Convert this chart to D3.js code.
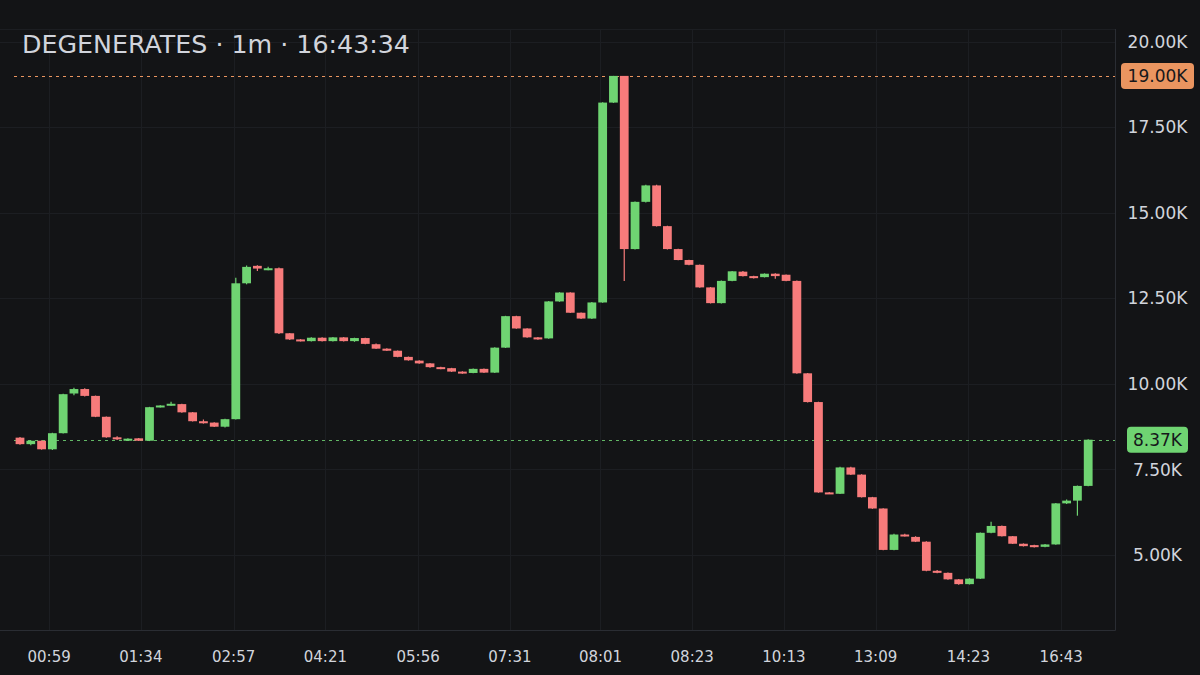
<!doctype html>
<html lang="en">
  <head>
    <meta charset="utf-8" />
    <title>DEGENERATES 1m</title>
    <style>
     html, body {
       margin: 0;
       padding: 0;
       background: #131416;
     }
     svg {
       display: block;
       font-family: "DejaVu Sans", Verdana, sans-serif;
     }
    </style>
  </head>
  <body>
    <div id="chart"></div>

    <script src="https://cdn.jsdelivr.net/npm/d3@7"></script>
    <script>
    // candles, values in K
    var opens  = [8.43, 8.24, 8.34, 8.09, 8.56, 9.72, 9.85, 9.65, 9.04, 8.44,
                  8.34, 8.41, 8.34, 9.32, 9.37, 9.41, 9.17, 8.91, 8.87, 8.75,
                  8.97, 12.94, 13.45, 13.33, 13.38, 11.48, 11.30, 11.25, 11.35, 11.25,
                  11.36, 11.25, 11.34, 11.16, 11.03, 10.97, 10.79, 10.68, 10.60, 10.49,
                  10.46, 10.36, 10.32, 10.44, 10.33, 11.06, 11.98, 11.62, 11.36, 11.33,
                  12.41, 12.67, 12.08, 11.91, 12.38, 18.22, 19.00, 13.94, 15.32, 15.80,
                  14.61, 13.94, 13.62, 13.48, 12.82, 12.36, 13.01, 13.28, 13.15, 13.12,
                  13.22, 13.19, 13.01, 10.31, 9.47, 6.83, 6.79, 7.56, 7.35, 6.69,
                  6.36, 5.15, 5.60, 5.53, 5.39, 4.54, 4.48, 4.29, 4.15, 4.31,
                  5.65, 5.85, 5.55, 5.33, 5.29, 5.24, 5.31, 6.51, 6.59, 7.02];
    var highs  = [8.45, 8.35, 8.35, 8.57, 9.71, 9.89, 9.87, 9.66, 9.05, 8.47,
                  8.41, 8.42, 9.33, 9.38, 9.48, 9.42, 9.18, 8.96, 8.88, 8.98,
                  13.10, 13.46, 13.47, 13.42, 13.40, 11.49, 11.31, 11.36, 11.36, 11.37,
                  11.37, 11.35, 11.35, 11.18, 11.04, 10.98, 10.80, 10.69, 10.61, 10.50,
                  10.47, 10.37, 10.45, 10.45, 11.07, 11.99, 11.99, 11.63, 11.37, 12.42,
                  12.68, 12.68, 12.09, 12.39, 18.23, 19.00, 19.00, 15.33, 15.82, 15.82,
                  14.62, 13.95, 13.63, 13.49, 12.83, 13.02, 13.30, 13.30, 13.16, 13.23,
                  13.23, 13.20, 13.02, 10.32, 9.48, 6.84, 7.58, 7.58, 7.36, 6.70,
                  6.37, 5.62, 5.62, 5.55, 5.40, 4.56, 4.49, 4.30, 4.32, 5.66,
                  5.97, 5.86, 5.56, 5.34, 5.30, 5.32, 6.52, 6.62, 7.03, 8.38];
    var lows   = [8.22, 8.21, 8.08, 8.07, 8.55, 9.67, 9.63, 9.03, 8.43, 8.36,
                  8.33, 8.33, 8.33, 9.31, 9.36, 9.16, 8.90, 8.84, 8.74, 8.73,
                  8.96, 12.91, 13.30, 13.32, 11.46, 11.28, 11.24, 11.24, 11.24, 11.24,
                  11.24, 11.23, 11.16, 11.02, 10.96, 10.78, 10.68, 10.59, 10.47, 10.43,
                  10.35, 10.30, 10.31, 10.32, 10.32, 11.05, 11.61, 11.35, 11.29, 11.32,
                  12.40, 12.07, 11.90, 11.90, 12.37, 18.21, 13.01, 13.93, 15.30, 14.60,
                  13.93, 13.61, 13.47, 12.81, 12.35, 12.35, 13.00, 13.14, 13.08, 13.11,
                  13.07, 13.00, 10.30, 9.46, 6.82, 6.78, 6.78, 7.34, 6.68, 6.35,
                  5.14, 5.14, 5.54, 5.38, 4.53, 4.47, 4.28, 4.13, 4.14, 4.30,
                  5.64, 5.54, 5.32, 5.25, 5.22, 5.23, 5.30, 6.49, 6.15, 7.01];
    var closes = [8.24, 8.34, 8.09, 8.56, 9.70, 9.85, 9.65, 9.04, 8.44, 8.38,
                  8.40, 8.34, 9.32, 9.37, 9.42, 9.17, 8.91, 8.85, 8.75, 8.97,
                  12.94, 13.42, 13.37, 13.38, 11.48, 11.30, 11.25, 11.35, 11.25, 11.36,
                  11.25, 11.34, 11.17, 11.03, 10.97, 10.79, 10.69, 10.60, 10.49, 10.44,
                  10.36, 10.31, 10.44, 10.33, 11.06, 11.98, 11.62, 11.36, 11.30, 12.41,
                  12.67, 12.08, 11.91, 12.38, 18.22, 19.00, 13.94, 15.32, 15.80, 14.61,
                  13.94, 13.62, 13.48, 12.82, 12.36, 13.01, 13.29, 13.15, 13.09, 13.22,
                  13.15, 13.01, 10.31, 9.47, 6.83, 6.79, 7.56, 7.35, 6.69, 6.36,
                  5.15, 5.60, 5.55, 5.39, 4.54, 4.48, 4.29, 4.15, 4.31, 5.65,
                  5.85, 5.55, 5.33, 5.26, 5.23, 5.31, 6.51, 6.59, 7.02, 8.37];

    // time axis labels, placed at candle positions
    var timeTickIdx = [2.7, 11.2, 19.8, 28.3, 36.9, 45.4, 53.8, 62.3, 70.8, 79.3, 87.9, 96.5];
    var timeTickLabels = ["00:59", "01:34", "02:57", "04:21", "05:56", "07:31",
                          "08:01", "08:23", "10:13", "13:09", "14:23", "16:43"];
    var priceTicks = [5, 7.5, 10, 12.5, 15, 17.5, 20];
    var priceDomain = [2.81, 20.37];

    var title = "DEGENERATES · 1m · 16:43:34";
    var highMark = 19.00;
    var lastPrice = 8.37;

    var W = 1200, H = 675;
    var plot = {left: 0, right: 1115, top: 29, bottom: 630};

    var up = "#6fd472", down = "#f77b7b";
    var orange = "#ea9560";
    var textCol = "#d1d4dc";
    var gridCol = "#1c1e22";

    var candles = d3.range(opens.length).map(function(i) {
      return {i: i, o: opens[i], h: highs[i], l: lows[i], c: closes[i]};
    });

    var x = d3.scaleLinear().domain([0, 99]).range([20, 1088.2]);
    var y = d3.scaleLinear().domain(priceDomain).range([plot.bottom, plot.top]);
    var bodyW = 8.8;

    var svg = d3.select("#chart").append("svg")
      .attr("width", W)
      .attr("height", H);

    svg.append("rect")
      .attr("width", W).attr("height", H)
      .attr("fill", "#131416");

    // grid
    svg.append("g").selectAll("line")
      .data(priceTicks)
      .enter().append("line")
      .attr("x1", plot.left).attr("x2", plot.right)
      .attr("y1", function(d) { return Math.round(y(d)) + 0.5; })
      .attr("y2", function(d) { return Math.round(y(d)) + 0.5; })
      .attr("stroke", gridCol);

    svg.append("g").selectAll("line")
      .data(timeTickIdx)
      .enter().append("line")
      .attr("x1", function(d) { return Math.round(x(d)) + 0.5; })
      .attr("x2", function(d) { return Math.round(x(d)) + 0.5; })
      .attr("y1", plot.top).attr("y2", plot.bottom)
      .attr("stroke", gridCol);

    svg.append("line")
      .attr("x1", plot.left).attr("x2", plot.right)
      .attr("y1", plot.top + 0.5).attr("y2", plot.top + 0.5)
      .attr("stroke", gridCol);

    // frame right + bottom
    svg.append("path")
      .attr("d", "M" + (plot.right + 0.5) + "," + plot.top + "V" + (plot.bottom + 0.5) + "H" + plot.left)
      .attr("fill", "none")
      .attr("stroke", "#2a2d33");

    // price lines
    function priceLine(v, col) {
      var py = Math.round(y(v)) + 0.5;
      svg.append("line")
        .attr("x1", 14).attr("x2", plot.right)
        .attr("y1", py).attr("y2", py)
        .attr("stroke", col)
        .attr("stroke-dasharray", "3,4");
    }
    priceLine(highMark, orange);
    priceLine(lastPrice, "#62b866");

    // candles
    var cg = svg.append("g").selectAll("g")
      .data(candles)
      .enter().append("g")
      .attr("fill", function(d) { return d.c >= d.o ? up : down; })
      .attr("stroke", function(d) { return d.c >= d.o ? up : down; });

    cg.append("line")
      .attr("x1", function(d) { return x(d.i); })
      .attr("x2", function(d) { return x(d.i); })
      .attr("y1", function(d) { return y(d.h); })
      .attr("y2", function(d) { return y(d.l); })
      .attr("stroke-width", 1.2);

    cg.append("rect")
      .attr("stroke", "none")
      .attr("x", function(d) { return x(d.i) - bodyW / 2; })
      .attr("width", bodyW)
      .attr("y", function(d) { return y(Math.max(d.o, d.c)); })
      .attr("height", function(d) { return Math.max(2, Math.abs(y(d.o) - y(d.c))); });

    // y axis labels
    svg.append("g").selectAll("text")
      .data(priceTicks)
      .enter().append("text")
      .attr("x", 1157.5)
      .attr("y", function(d) { return y(d); })
      .attr("dy", "0.36em")
      .attr("text-anchor", "middle")
      .attr("fill", textCol)
      .attr("font-size", 17)
      .text(function(d) { return d.toFixed(2) + "K"; });

    // badges
    function badge(v, fill, w) {
      var g = svg.append("g").attr("transform", "translate(1157.5," + y(v) + ")");
      g.append("rect")
        .attr("x", -w / 2).attr("y", -13)
        .attr("width", w).attr("height", 26)
        .attr("rx", 4)
        .attr("fill", fill);
      g.append("text")
        .attr("text-anchor", "middle")
        .attr("dy", "0.36em")
        .attr("font-size", 17)
        .attr("fill", "#16181b")
        .text(v.toFixed(2) + "K");
    }
    badge(highMark, orange, 73);
    badge(lastPrice, up, 61);

    // x axis labels
    svg.append("g").selectAll("text")
      .data(timeTickIdx)
      .enter().append("text")
      .attr("x", function(d) { return x(d); })
      .attr("y", 657)
      .attr("dy", "0.36em")
      .attr("text-anchor", "middle")
      .attr("fill", textCol)
      .attr("font-size", 15)
      .text(function(d, i) { return timeTickLabels[i]; });

    // title
    svg.append("text")
      .attr("x", 22)
      .attr("y", 53)
      .attr("fill", textCol)
      .attr("font-size", 25.3)
      .text(title);
    </script>
  </body>
</html>
